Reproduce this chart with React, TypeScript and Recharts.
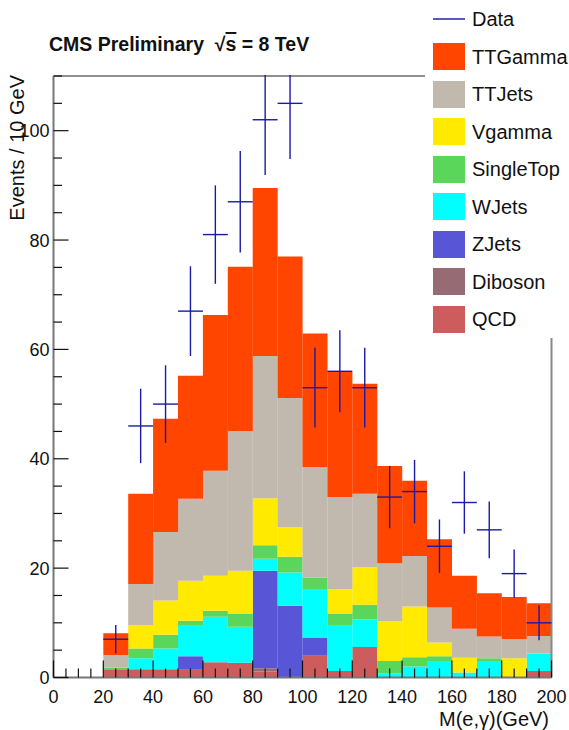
import React from 'react';
import { ComposedChart, Bar, XAxis, YAxis, Scatter, ErrorBar, ReferenceLine, Legend } from 'recharts';

const W = 569;
const H = 730;
const X_AXIS_H = 52.5;
const PLOT_TOP = 76;
const PLOT_BOTTOM = H - X_AXIS_H;
const FONT = '"Liberation Sans", Arial, Helvetica, sans-serif';

// 10 GeV bins from 0 to 200
const binLabels = ['0-10', '10-20', '20-30', '30-40', '40-50', '50-60', '60-70', '70-80', '80-90', '90-100',
  '100-110', '110-120', '120-130', '130-140', '140-150', '150-160', '160-170', '170-180', '180-190', '190-200'];

// stacked MC backgrounds (bottom -> top)
const qcd = [0, 0, 1.5, 1.5, 1.5, 1.4, 2.8, 2.7, 1.1, 0, 4.0, 1.2, 5.6, 0, 0, 0, 0, 0, 0, 1.2];
const diboson = [0, 0, 0, 0, 0, 0, 0, 0, 0.6, 0, 0, 0, 0, 0, 0, 0, 0, 0, 0, 0];
const zjets = [0, 0, 0, 0, 0, 2.5, 0, 0, 17.8, 13.1, 3.3, 0, 0, 0, 0, 0, 0, 0, 0, 0];
const wjets = [0, 0, 0, 2.0, 3.8, 5.7, 8.3, 6.6, 2.2, 6.1, 8.9, 8.4, 5.0, 0.8, 2.0, 3.0, 0.9, 3.0, 0, 3.2];
const singleTop = [0, 0, 0.3, 1.8, 2.5, 0.8, 1.1, 2.4, 2.5, 2.9, 2.1, 2.1, 2.7, 2.2, 1.7, 0.9, 0, 0.5, 0, 0];
const vgamma = [0, 0, 0, 4.3, 6.3, 7.3, 6.4, 7.8, 8.6, 5.4, 0, 4.5, 6.9, 7.3, 9.3, 2.5, 2.7, 0, 3.5, 0];
const ttjets = [0, 0, 2.3, 7.5, 12.5, 15.0, 19.2, 25.6, 26.0, 23.6, 20.2, 16.8, 13.4, 10.6, 9.2, 6.4, 5.3, 4.0, 3.5, 3.2];
const ttgamma = [0, 0, 4.0, 16.5, 20.7, 22.5, 28.5, 30.0, 30.7, 25.9, 24.4, 22.9, 20.1, 17.8, 13.8, 12.5, 9.7, 7.9, 7.7, 6.0];

// data points (bin centres, counts, vertical errors, half bin width)
const dataCenters = [25, 35, 45, 55, 65, 75, 85, 95, 105, 115, 125, 135, 145, 155, 165, 175, 185, 195];
const dataCounts = [7, 46, 50, 67, 81, 87, 102, 105, 53, 56, 53, 33, 34, 24, 32, 27, 19, 10];
const dataErrors = [2.6, 6.8, 7.1, 8.2, 9.0, 9.3, 10.1, 10.2, 7.3, 7.5, 7.3, 5.7, 5.8, 4.9, 5.7, 5.2, 4.4, 3.2];
const halfBin = 5;

const xTicks = [0, 5, 10, 15, 20, 25, 30, 35, 40, 45, 50, 55, 60, 65, 70, 75, 80, 85, 90, 95, 100,
  105, 110, 115, 120, 125, 130, 135, 140, 145, 150, 155, 160, 165, 170, 175, 180, 185, 190, 195, 200];
const yTicks = [0, 5, 10, 15, 20, 25, 30, 35, 40, 45, 50, 55, 60, 65, 70, 75, 80, 85, 90, 95, 100, 105, 110];

const series = [
  { key: 'QCD', values: qcd, color: '#cd5c5c' },
  { key: 'Diboson', values: diboson, color: '#966b73' },
  { key: 'ZJets', values: zjets, color: '#5856d6' },
  { key: 'WJets', values: wjets, color: '#00ffff' },
  { key: 'SingleTop', values: singleTop, color: '#5ad65a' },
  { key: 'Vgamma', values: vgamma, color: '#ffea00' },
  { key: 'TTJets', values: ttjets, color: '#c1b8ae' },
  { key: 'TTGamma', values: ttgamma, color: '#ff4500' },
];

const DATA_COLOR = '#1a1aa6';

const rows = binLabels.map((bin, i) => {
  const r: Record<string, any> = { bin };
  series.forEach((s) => { r[s.key] = s.values[i]; });
  return r;
});

const dataPts = dataCenters.map((x, i) => ({ x, y: dataCounts[i], ex: halfBin, ey: dataErrors[i] }));

const legendItems = [
  { name: 'Data', color: DATA_COLOR, line: true },
  ...series.slice().reverse().map((s) => ({ name: s.key, color: s.color, line: false })),
];

const XTick = (props: any) => {
  const { x, payload } = props;
  const y = PLOT_BOTTOM;
  const v = payload.value;
  const major = v % 20 === 0;
  return (
    <g>
      <line x1={x} x2={x} y1={y} y2={y - (major ? 17 : 9)} stroke="#111" strokeWidth={1.2} />
      {major && (
        <text x={x} y={y + 25.5} textAnchor="middle" fontSize={18} fontFamily={FONT} fill="#111">{v}</text>
      )}
    </g>
  );
};

const YTick = (props: any) => {
  const { x, y, payload } = props;
  const v = payload.value;
  const major = v % 20 === 0;
  return (
    <g>
      <line x1={x} x2={x + (major ? 15 : 8.5)} y1={y} y2={y} stroke="#111" strokeWidth={1.2} />
      {major && (
        <text x={x - 4} y={y + 6.5} textAnchor="end" fontSize={18} fontFamily={FONT} fill="#111">{v}</text>
      )}
    </g>
  );
};

const LegendBox = () => (
  <div style={{ position: 'relative', width: 144, height: 338, background: '#fff', fontFamily: FONT }}>
    {legendItems.map((it, k) => {
      const cy = 19 + 37.5 * k;
      return (
        <div key={it.name}>
          {it.line ? (
            <div style={{ position: 'absolute', left: 8, top: cy - 0.6, width: 32, height: 1.3, background: '#5a5abc' }} />
          ) : (
            <div style={{ position: 'absolute', left: 8, top: cy - 13.5, width: 32, height: 27, background: it.color }} />
          )}
          <div style={{ position: 'absolute', left: 47, top: cy - 12, height: 24, lineHeight: '24px', fontSize: 20, color: '#111', whiteSpace: 'nowrap' }}>
            {it.name}
          </div>
        </div>
      );
    })}
  </div>
);

const NoShape = () => <g />;

export default function App() {
  return (
    <div style={{ position: 'absolute', left: 0, top: 0, width: W, height: H, background: '#fff' }}>
      <ComposedChart
        width={W}
        height={H}
        data={rows}
        margin={{ top: PLOT_TOP, right: 17.5, bottom: 0, left: 0 }}
        barCategoryGap={0}
        barGap={0}
      >
        {series.map((s) => (
          <Bar key={s.key} dataKey={s.key} stackId="mc" xAxisId="cat" fill={s.color} isAnimationActive={false} />
        ))}
        <XAxis
          xAxisId="num"
          dataKey="x"
          type="number"
          domain={[0, 200]}
          ticks={xTicks}
          interval={0}
          height={X_AXIS_H}
          tickSize={0}
          tickMargin={0}
          tickLine={false}
          tick={<XTick />}
          axisLine={{ stroke: '#777', strokeWidth: 2 }}
        />
        <XAxis xAxisId="cat" dataKey="bin" type="category" height={0} hide />
        <YAxis
          type="number"
          domain={[0, 110]}
          allowDataOverflow
          ticks={yTicks}
          interval={0}
          width={53.5}
          tickSize={0}
          tickMargin={0}
          tickLine={false}
          tick={<YTick />}
          axisLine={{ stroke: '#777', strokeWidth: 2 }}
        />
        <ReferenceLine xAxisId="num" y={110} stroke="#222" strokeWidth={1.2} ifOverflow="visible" />
        <ReferenceLine xAxisId="num" x={200} stroke="#888" strokeWidth={2} ifOverflow="visible" />
        <Scatter data={dataPts} dataKey="y" xAxisId="num" shape={NoShape} isAnimationActive={false}>
          <ErrorBar dataKey="ey" direction="y" width={0} stroke={DATA_COLOR} strokeWidth={1.4} isAnimationActive={false} />
          <ErrorBar dataKey="ex" direction="x" width={0} stroke={DATA_COLOR} strokeWidth={1.4} isAnimationActive={false} />
        </Scatter>
        <Legend
          layout="vertical"
          align="center"
          verticalAlign="middle"
          wrapperStyle={{ left: 425, top: 0, width: 144, height: 338 }}
          content={() => <LegendBox />}
        />
      </ComposedChart>
      <svg width={W} height={H} style={{ position: 'absolute', left: 0, top: 0, pointerEvents: 'none' }}>
        {/* frame clipping: hide error bars that overflow above the top of the frame */}
        <rect x={0} y={0} width={425} height={PLOT_TOP - 1} fill="#fff" />
        <text x={49} y={51} fontFamily={FONT} fontWeight="bold" fontSize={19.5} fill="#111" style={{ whiteSpace: 'pre' }}>
          {'CMS Preliminary  \u221A'}
          <tspan textDecoration="overline">s</tspan>
          {' = 8 TeV'}
        </text>
        <text x={24} y={75} transform="rotate(-90, 24, 75)" textAnchor="end" fontFamily={FONT} fontSize={20} fill="#111">
          Events / 10 GeV
        </text>
        <text x={549} y={726} textAnchor="end" fontFamily={FONT} fontSize={20} fill="#111">
          {'M(e,\u03B3)(GeV)'}
        </text>
      </svg>
    </div>
  );
}
